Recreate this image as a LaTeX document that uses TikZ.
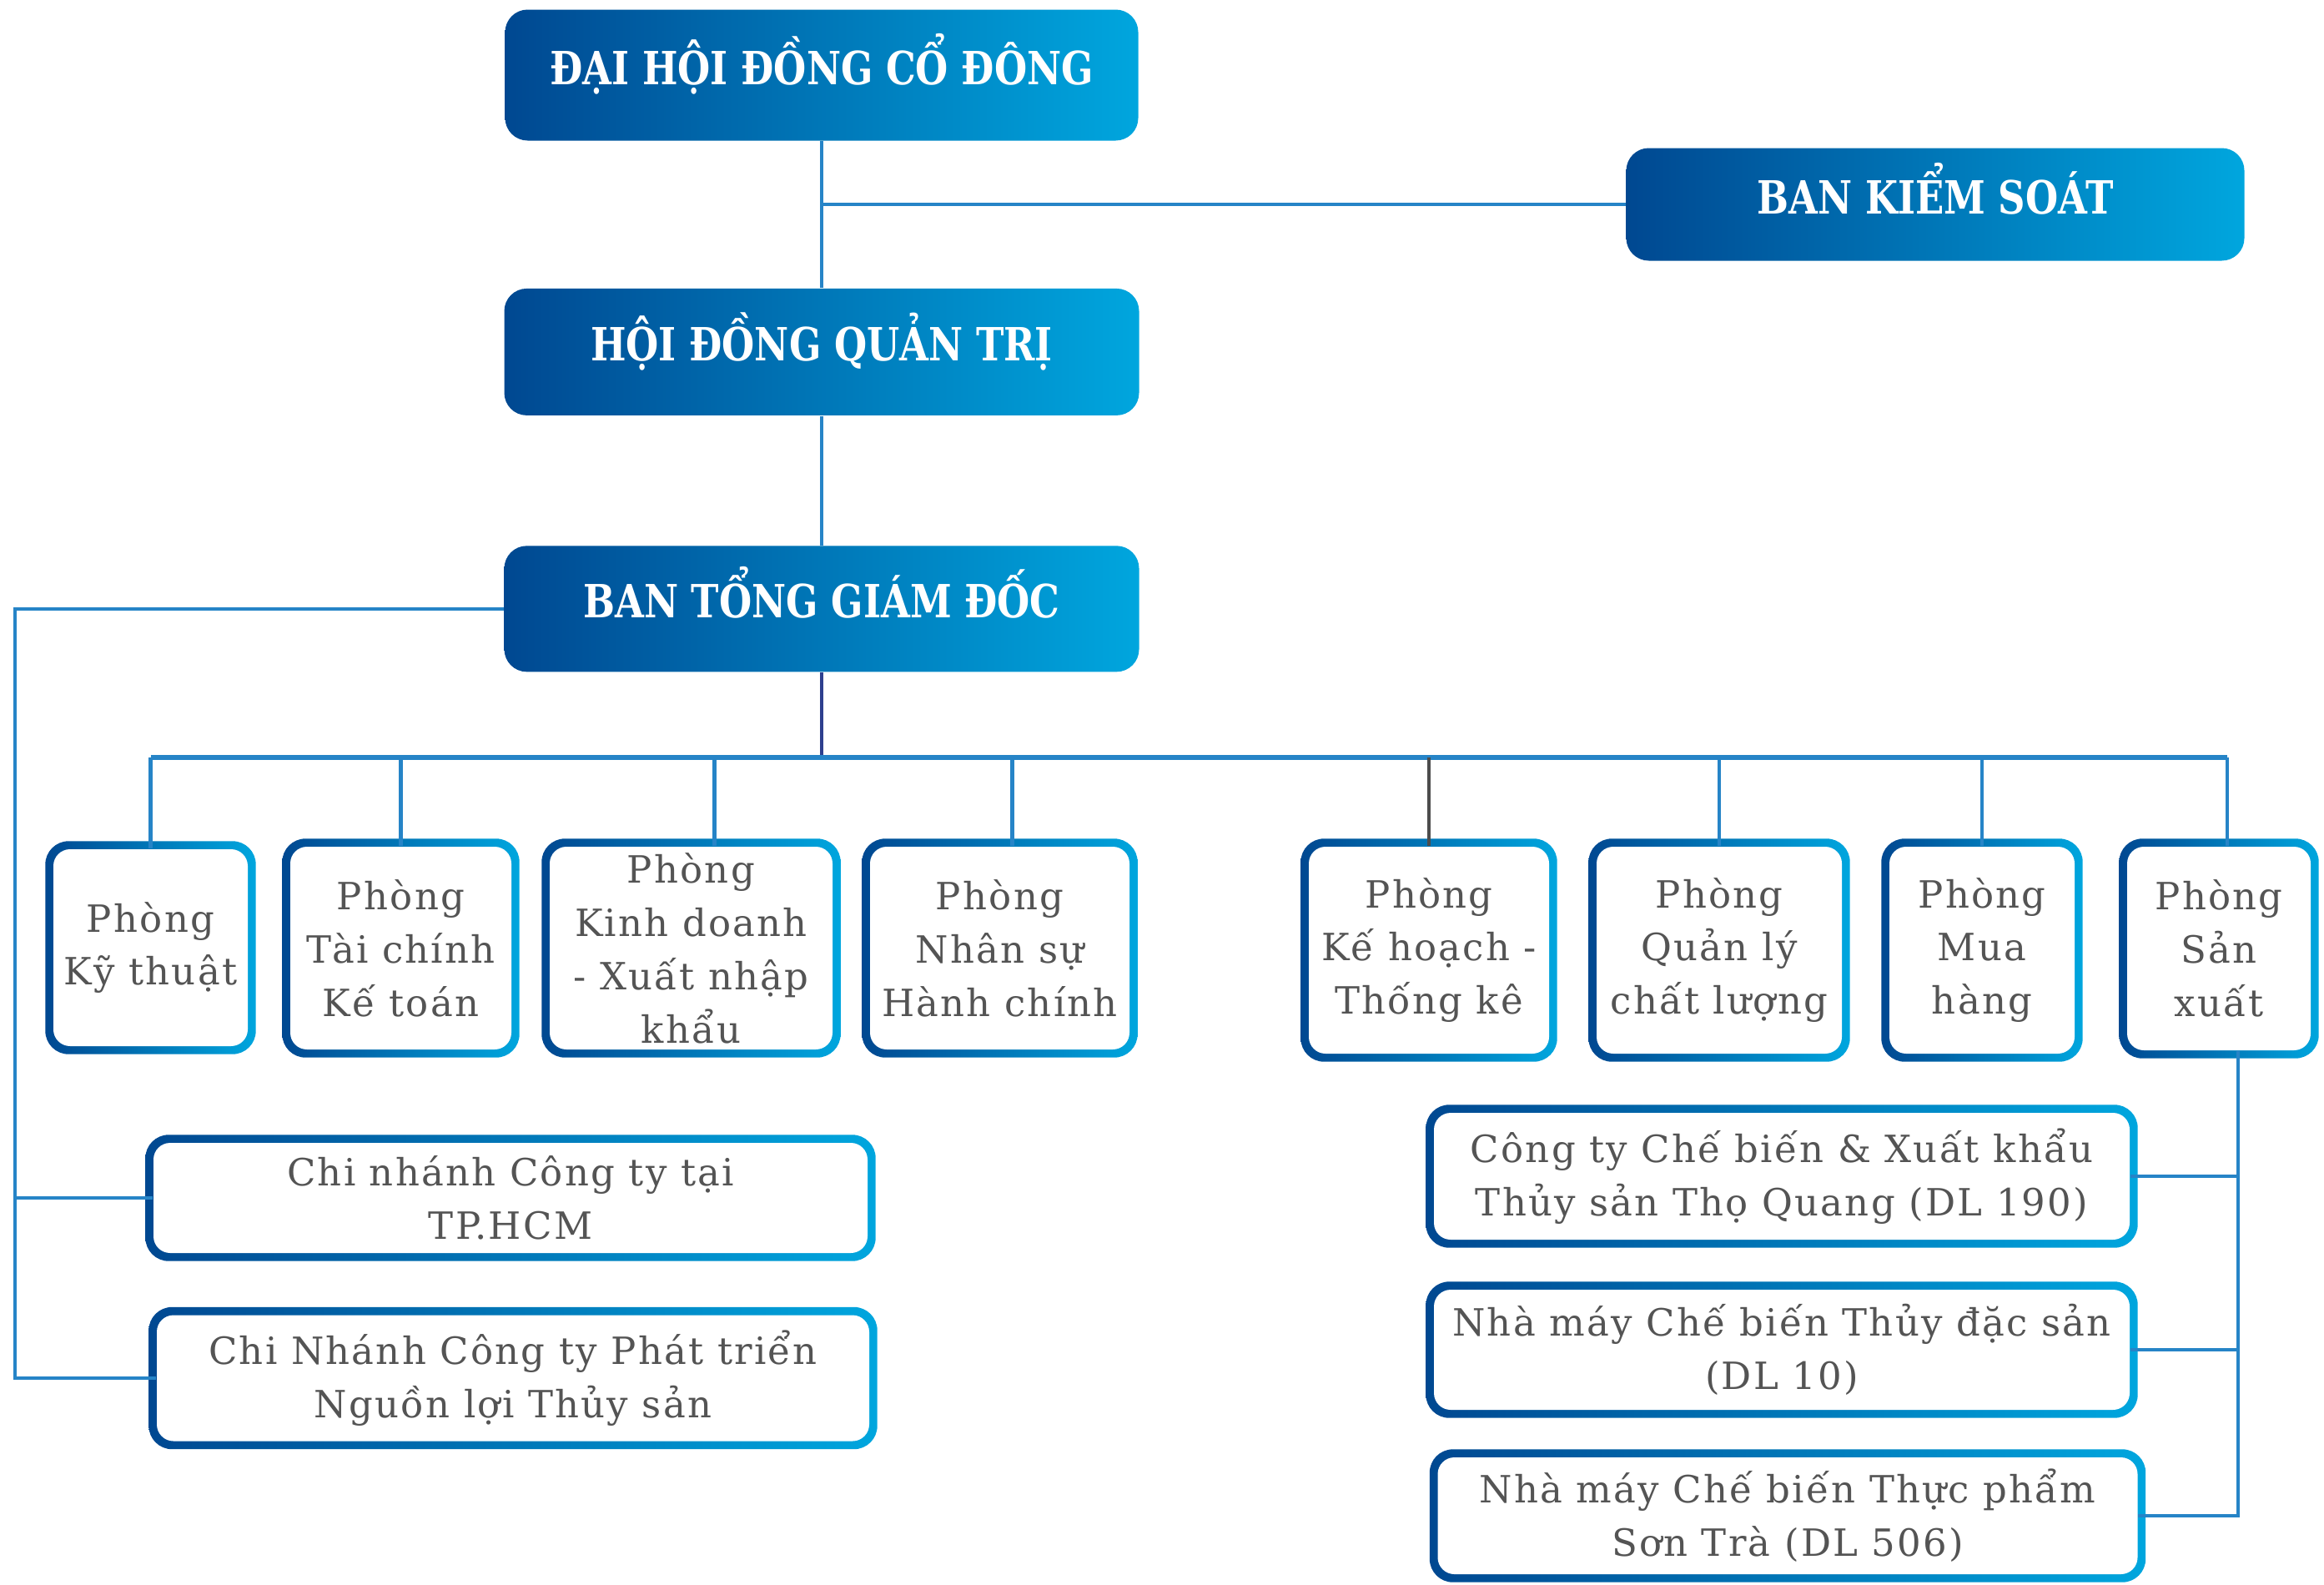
\documentclass[tikz,border=0pt]{standalone}
\usepackage{fontspec}
\usepackage{xcolor}
\newfontfamily\bodyfont{DejaVu Serif}[LetterSpace=5]
\newfontfamily\headfont{DejaVu Serif}[FakeStretch=0.82]
\usetikzlibrary{positioning,fit,backgrounds}

\definecolor{bdark}{RGB}{0,72,145}
\definecolor{blight}{RGB}{0,166,222}
\definecolor{linkblue}{RGB}{38,132,199}
\definecolor{navy}{RGB}{46,63,142}
\definecolor{txtgray}{RGB}{84,84,84}

\begin{document}
\begin{tikzpicture}[
    node distance=1.6cm and 1.2cm,
    head/.style={
        rectangle,
        rounded corners=0.27cm,
        left color=bdark,
        right color=blight,
        text=white,
        align=center,
        text height=0.4cm,
        text depth=0.18cm,
        font=\headfont\bfseries\fontsize{15.6}{18}\selectfont
    },
    unit/.style={
        rectangle,
        rounded corners=0.2cm,
        fill=white,
        text=txtgray,
        align=center,
        inner sep=0pt,
        font=\bodyfont\fontsize{12.8}{18.2}\selectfont
    },
    rim/.style={
        rectangle,
        rounded corners=0.28cm,
        left color=bdark,
        right color=blight,
        inner sep=0.09cm
    },
    link/.style={
        draw,
        line width=1.2pt,
        color=linkblue
    },
    bus/.style={
        draw,
        line width=1.8pt,
        color=linkblue
    }
]
    \useasboundingbox (0,0) rectangle (27.86,-18.99);

    % --- Nodes ---

    % Top column
    \node [head, minimum width=7.59cm, minimum height=1.57cm] (dhcd) at (9.85,-0.90) {ĐẠI HỘI ĐỒNG CỔ ĐÔNG};
    \node [head, minimum width=7.61cm, minimum height=1.52cm, below=1.76cm of dhcd] (hdqt) {HỘI ĐỒNG QUẢN TRỊ};
    \node [head, minimum width=7.61cm, minimum height=1.51cm, below=1.55cm of hdqt] (btgd) {BAN TỔNG GIÁM ĐỐC};
    \node [head, minimum width=7.41cm, minimum height=1.35cm] (bks) at (23.20,-2.45) {BAN KIỂM SOÁT};

    % Department row
    \node [unit, minimum width=2.33cm, minimum height=2.36cm] (kt) at (1.805,-11.36) {Phòng\\Kỹ thuật};
    \node [unit, minimum width=2.65cm, minimum height=2.43cm] (tc) at (4.805,-11.365) {Phòng\\Tài chính\\Kế toán};
    \node [unit, minimum width=3.39cm, minimum height=2.43cm] (kd) at (8.285,-11.365) {Phòng\\Kinh doanh\\- Xuất nhập\\khẩu};
    \node [unit, minimum width=3.11cm, minimum height=2.43cm] (ns) at (11.985,-11.365) {Phòng\\Nhân sự\\Hành chính};
    \node [unit, minimum width=2.88cm, minimum height=2.48cm] (kh) at (17.13,-11.39) {Phòng\\Kế hoạch -\\Thống kê};
    \node [unit, minimum width=2.94cm, minimum height=2.48cm] (cl) at (20.61,-11.39) {Phòng\\Quản lý\\chất lượng};
    \node [unit, minimum width=2.22cm, minimum height=2.48cm] (mh) at (23.76,-11.39) {Phòng\\Mua\\hàng};
    \node [unit, minimum width=2.20cm, minimum height=2.44cm] (sx) at (26.60,-11.37) {Phòng\\Sản\\xuất};

    % Branches (left)
    \node [unit, minimum width=8.56cm, minimum height=1.32cm] (hcm) at (6.12,-14.36) {Chi nhánh Công ty tại\\TP.HCM};
    \node [unit, minimum width=8.54cm, minimum height=1.51cm] (cn2) at (6.15,-16.52) {Chi Nhánh Công ty Phát triển\\Nguồn lợi Thủy sản};

    % Factories (right)
    \node [unit, minimum width=8.34cm, minimum height=1.52cm] (ct190) at (21.36,-14.10) {Công ty Chế biến \& Xuất khẩu\\Thủy sản Thọ Quang (DL 190)};
    \node [unit, minimum width=8.34cm, minimum height=1.44cm] (dl10) at (21.36,-16.18) {Nhà máy Chế biến Thủy đặc sản\\(DL 10)};
    \node [unit, minimum width=8.39cm, minimum height=1.40cm] (st506) at (21.43,-18.17) {Nhà máy Chế biến Thực phẩm\\Sơn Trà (DL 506)};

    % Gradient rims behind the white boxes
    \begin{scope}[on background layer]
        \foreach \n in {kt,tc,kd,ns,kh,cl,mh,sx,hcm,cn2,ct190,dl10,st506}
            \node [rim, fit=(\n)] {};
    \end{scope}

    % --- Connections ---
    \coordinate (busy) at (0,-9.08);
    \coordinate (lrail) at (0.18,0);
    \coordinate (rrail) at (26.83,0);

    % Trunk
    \path [link] (dhcd.south) -- (hdqt.north);
    \path [link] (hdqt.south) -- (btgd.north);
    \path [link] (bks.west) -- (bks.west -| dhcd.south);

    % Left rail to the branches
    \path [link] (btgd.west) -- (btgd.west -| lrail) |- (cn2.west);
    \path [link] (hcm.west) -- (hcm.west -| lrail);

    % Bus to the departments
    \path [link, color=navy] (btgd.south) -- (btgd.south |- busy);
    \path [bus] (kt.north |- busy) -- ([xshift=0.1cm]sx.north |- busy);
    \foreach \n in {kt,tc,cl,mh}
        \path [link] (\n.north) -- (\n.north |- busy);
    \path [link] ([xshift=0.28cm]kd.north) -- ([xshift=0.28cm]kd.north |- busy);
    \path [link] ([xshift=0.15cm]ns.north) -- ([xshift=0.15cm]ns.north |- busy);
    \path [link] ([xshift=0.1cm]sx.north) -- ([xshift=0.1cm]sx.north |- busy);
    \path [link, color=black!70] (kh.north) -- (kh.north |- busy);

    % Right rail to the factories
    \path [link] (sx.south -| rrail) |- (st506.east);
    \path [link] (ct190.east) -- (ct190.east -| rrail);
    \path [link] (dl10.east) -- (dl10.east -| rrail);

\end{tikzpicture}
\end{document}
